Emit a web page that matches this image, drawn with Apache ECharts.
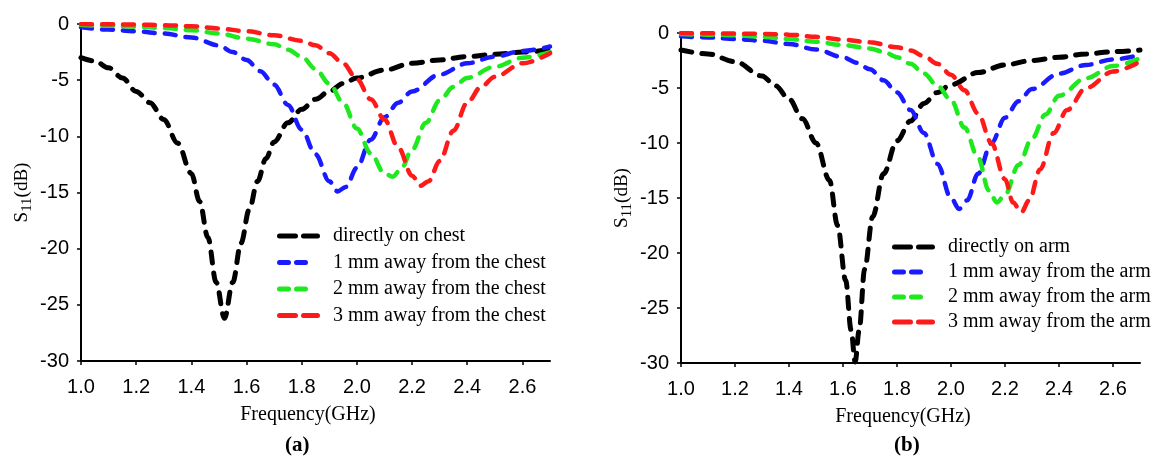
<!DOCTYPE html>
<html>
<head>
<meta charset="utf-8">
<title>S11 vs frequency</title>
<script src="https://cdn.jsdelivr.net/npm/echarts@6/dist/echarts.min.js"></script>
<style>
  html, body { margin: 0; padding: 0; background: #fff; }
  #chart { width: 1151px; height: 457px; }
</style>
</head>
<body>
<div id="chart"></div>
<script>
// tick values shared by both panels
const xTicks = [1.0, 1.2, 1.4, 1.6, 1.8, 2.0, 2.2, 2.4, 2.6];
const yTicks = [0, -5, -10, -15, -20, -25, -30];

// (a) chest, [GHz, dB]
const chestDirect = [[1.0,-3.0],[1.05,-3.3],[1.1,-3.9],[1.15,-4.8],[1.2,-6.0],[1.25,-7.0],[1.3,-8.5],[1.35,-10.6],[1.4,-13.3],[1.43,-15.8],[1.46,-19],[1.49,-23],[1.52,-26.2],[1.55,-23],[1.58,-19.5],[1.61,-16.5],[1.64,-14],[1.67,-12],[1.7,-10.5],[1.75,-8.8],[1.8,-7.6],[1.85,-6.7],[1.9,-6.0],[1.95,-5.3],[2.0,-4.8],[2.1,-4.1],[2.2,-3.5],[2.3,-3.2],[2.4,-2.9],[2.5,-2.7],[2.6,-2.5],[2.7,-2.3]];
const chest1mm = [[1.0,-0.3],[1.1,-0.5],[1.2,-0.65],[1.3,-0.85],[1.4,-1.2],[1.5,-1.9],[1.55,-2.5],[1.6,-3.2],[1.65,-4.2],[1.7,-5.4],[1.75,-7.2],[1.8,-9.4],[1.85,-11.6],[1.9,-14],[1.93,-14.9],[1.96,-14.5],[2.0,-12.8],[2.05,-10.3],[2.1,-8.3],[2.15,-7.0],[2.2,-6.0],[2.3,-4.5],[2.4,-3.5],[2.5,-2.9],[2.6,-2.4],[2.7,-2.0]];
const chest2mm = [[1.0,-0.1],[1.1,-0.15],[1.2,-0.25],[1.3,-0.35],[1.4,-0.55],[1.5,-0.85],[1.6,-1.3],[1.7,-1.8],[1.75,-2.3],[1.8,-2.9],[1.85,-4.0],[1.9,-5.3],[1.95,-7.0],[2.0,-9.3],[2.05,-11.5],[2.1,-13.3],[2.13,-13.6],[2.16,-12.9],[2.2,-11.2],[2.25,-8.8],[2.3,-6.8],[2.35,-5.6],[2.4,-4.8],[2.5,-3.8],[2.6,-3.0],[2.7,-2.5]];
const chest3mm = [[1.0,0],[1.1,-0.03],[1.2,-0.05],[1.3,-0.1],[1.4,-0.2],[1.5,-0.4],[1.6,-0.65],[1.7,-1.0],[1.8,-1.5],[1.85,-1.9],[1.9,-2.6],[1.95,-3.5],[2.0,-4.9],[2.05,-6.7],[2.1,-8.5],[2.15,-11.0],[2.2,-13.5],[2.23,-14.4],[2.26,-14.0],[2.3,-12.2],[2.35,-9.5],[2.4,-7.0],[2.45,-5.6],[2.5,-4.7],[2.6,-3.5],[2.7,-2.6]];

// (b) arm, [GHz, dB]
const armDirect = [[1.0,-1.55],[1.1,-1.9],[1.2,-2.6],[1.3,-3.9],[1.35,-4.8],[1.4,-6.0],[1.45,-7.8],[1.5,-10.0],[1.55,-13.4],[1.58,-17.5],[1.61,-22.5],[1.63,-27],[1.645,-29.9],[1.66,-27],[1.68,-21.5],[1.71,-16.7],[1.75,-12.8],[1.8,-9.8],[1.85,-8.0],[1.9,-6.4],[1.95,-5.4],[2.0,-4.7],[2.1,-3.6],[2.2,-2.9],[2.3,-2.5],[2.4,-2.2],[2.5,-1.9],[2.6,-1.7],[2.7,-1.55]];
const arm1mm = [[1.0,-0.3],[1.1,-0.4],[1.2,-0.55],[1.3,-0.7],[1.4,-1.0],[1.5,-1.5],[1.6,-2.2],[1.65,-2.7],[1.7,-3.3],[1.75,-4.3],[1.8,-5.4],[1.85,-7.0],[1.9,-9.1],[1.95,-11.9],[2.0,-15.0],[2.03,-16.0],[2.06,-15.2],[2.1,-12.8],[2.15,-10.0],[2.2,-7.7],[2.25,-6.2],[2.3,-5.1],[2.4,-3.7],[2.5,-2.9],[2.6,-2.4],[2.7,-2.0]];
const arm2mm = [[1.0,-0.1],[1.1,-0.15],[1.2,-0.2],[1.3,-0.35],[1.4,-0.55],[1.5,-0.8],[1.6,-1.1],[1.7,-1.4],[1.75,-1.7],[1.8,-2.2],[1.85,-2.8],[1.9,-3.7],[1.95,-4.8],[2.0,-6.1],[2.05,-8.6],[2.1,-11.3],[2.14,-14.3],[2.17,-15.4],[2.2,-14.7],[2.25,-12.0],[2.3,-9.6],[2.35,-7.4],[2.4,-5.7],[2.5,-4.1],[2.6,-3.0],[2.7,-2.3]];
const arm3mm = [[1.0,0],[1.1,-0.03],[1.2,-0.05],[1.3,-0.08],[1.4,-0.15],[1.5,-0.35],[1.6,-0.6],[1.7,-0.85],[1.8,-1.3],[1.85,-1.6],[1.9,-2.1],[1.95,-2.8],[2.0,-3.8],[2.05,-5.2],[2.1,-7.3],[2.15,-10.0],[2.2,-13.3],[2.23,-15.4],[2.26,-16.3],[2.29,-15.2],[2.33,-12.4],[2.38,-9.1],[2.43,-7.0],[2.5,-5.0],[2.6,-3.5],[2.7,-2.6]];

const chestNames = ["directly on chest", "1 mm away from the chest", "2 mm away from the chest", "3 mm away from the chest"];
const armNames = ["directly on arm", "1 mm away from the arm", "2 mm away from the arm", "3 mm away from the arm"];
const colors = ["#000000", "#1a1aff", "#1ee81e", "#ff1a1a"];

const sans = "Arial, 'Liberation Sans', sans-serif";
const serif = "'Times New Roman', 'Liberation Serif', serif";

// legend icons: two rounded dashes (short variant padded to the same box)
const longDash = "path://M2.5,0H18.5A2.5,2.5 0 0 1 18.5,5H2.5A2.5,2.5 0 0 1 2.5,0Z M26.5,0H40.5A2.5,2.5 0 0 1 40.5,5H26.5A2.5,2.5 0 0 1 26.5,0Z";
const shortDash = "path://M2.5,0H11.5A2.5,2.5 0 0 1 11.5,5H2.5A2.5,2.5 0 0 1 2.5,0Z M19.5,0H28.5A2.5,2.5 0 0 1 28.5,5H19.5A2.5,2.5 0 0 1 19.5,0Z M43,0L43,5L43,2Z";
const legendIcons = [longDash, shortDash, shortDash, longDash];

const makeX = gridIndex => ({
  type: "value",
  gridIndex,
  min: 1.0,
  max: 2.7,
  interval: 0.2,
  name: "Frequency(GHz)",
  nameLocation: "middle",
  nameGap: 44,
  nameTextStyle: { fontFamily: serif, fontSize: 20, color: "#000", padding: [0, 15, 0, 0] },
  axisLine: { onZero: false, lineStyle: { color: "#000", width: 2 } },
  axisTick: { show: true, length: 4, customValues: xTicks, lineStyle: { color: "#000", width: 1.5 } },
  axisLabel: {
    customValues: xTicks,
    margin: 16,
    fontFamily: sans,
    fontSize: 20,
    color: "#000",
    formatter: v => v.toFixed(1)
  },
  splitLine: { show: false }
});

const makeY = gridIndex => ({
  type: "value",
  gridIndex,
  min: -30,
  max: 0,
  interval: 5,
  name: "{s|S}{sub|11}{s|(dB)}",
  nameLocation: "middle",
  nameGap: 46,
  nameTextStyle: {
    fontFamily: serif,
    fontSize: 19,
    color: "#000",
    rich: {
      s: { fontFamily: serif, fontSize: 19, color: "#000" },
      sub: { fontFamily: serif, fontSize: 15, color: "#000", padding: [10, 0, 0, 0] }
    }
  },
  axisLine: { show: true, onZero: false, lineStyle: { color: "#000", width: 2 } },
  axisTick: { show: true, length: 4, customValues: yTicks, lineStyle: { color: "#000", width: 1.5 } },
  axisLabel: { customValues: yTicks, margin: 12, fontFamily: sans, fontSize: 20, color: "#000" },
  splitLine: { show: false }
});

const makeSeries = (name, data, i, gridIndex) => ({
  name,
  type: "line",
  xAxisIndex: gridIndex,
  yAxisIndex: gridIndex,
  data,
  symbol: "none",
  smooth: 0.35,
  smoothMonotone: "x",
  itemStyle: { color: colors[i] },
  lineStyle: { color: colors[i], width: i === 0 ? 5 : 4.5, type: [11, 10], cap: "round" }
});

const makeLegend = (names, left, top, itemGap) => ({
  data: names.map((name, i) => ({ name, icon: legendIcons[i] })),
  orient: "vertical",
  left,
  top,
  itemWidth: 43,
  itemHeight: 5,
  itemGap,
  selectedMode: false,
  itemStyle: { borderWidth: 0 },
  textStyle: { fontFamily: serif, fontSize: 20, color: "#000", lineHeight: 20, padding: [0, 0, 0, 8] }
});

const chart = echarts.init(document.getElementById("chart"), null, { renderer: "canvas" });

chart.setOption({
  animation: false,
  backgroundColor: "#fff",
  grid: [
    { left: 81, right: 601, top: 24, bottom: 96 },
    { left: 681, right: 11, top: 33, bottom: 94 }
  ],
  xAxis: [makeX(0), makeX(1)],
  yAxis: [makeY(0), makeY(1)],
  legend: [
    makeLegend(chestNames, 272, 221, 6.5),
    makeLegend(armNames, 887, 232, 5)
  ],
  title: [
    { text: "(a)", left: 280, top: 430, textStyle: { fontFamily: serif, fontSize: 21, fontWeight: "bold", color: "#000" } },
    { text: "(b)", left: 889, top: 430, textStyle: { fontFamily: serif, fontSize: 21, fontWeight: "bold", color: "#000" } }
  ],
  series: [
    makeSeries(chestNames[0], chestDirect, 0, 0),
    makeSeries(chestNames[1], chest1mm, 1, 0),
    makeSeries(chestNames[2], chest2mm, 2, 0),
    makeSeries(chestNames[3], chest3mm, 3, 0),
    makeSeries(armNames[0], armDirect, 0, 1),
    makeSeries(armNames[1], arm1mm, 1, 1),
    makeSeries(armNames[2], arm2mm, 2, 1),
    makeSeries(armNames[3], arm3mm, 3, 1)
  ]
});

window.addEventListener("resize", () => chart.resize());
</script>
</body>
</html>
